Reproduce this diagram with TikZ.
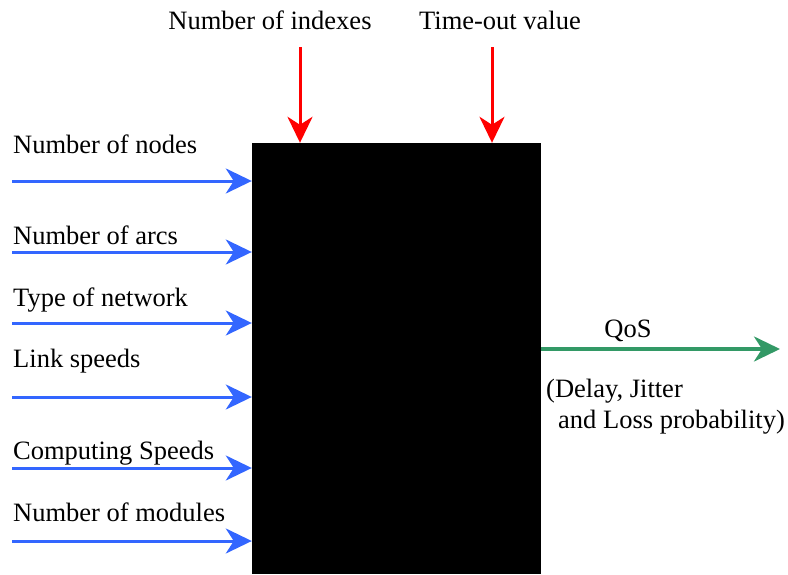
\documentclass[tikz,border=0pt]{standalone}
\usepackage{fontspec}
\setmainfont{Liberation Serif}
\usetikzlibrary{arrows.meta}
\definecolor{inblue}{RGB}{51,102,255}
\definecolor{ctlred}{RGB}{255,0,0}
\definecolor{outgreen}{RGB}{51,153,102}
\begin{document}
\begin{tikzpicture}[x=1pt,y=-1pt,
  lbl/.style={anchor=base west,inner sep=0pt,font=\fontsize{26.5}{30}\selectfont},
  clbl/.style={anchor=base,inner sep=0pt,font=\fontsize{26.5}{30}\selectfont},
  tip/.style={-{Stealth[length=26pt,width=25pt,inset=8pt]}},
  inarrow/.style={tip,draw=inblue,fill=inblue,line width=3pt},
  ctlarrow/.style={tip,draw=ctlred,fill=ctlred,line width=3pt},
  outarrow/.style={tip,draw=outgreen,fill=outgreen,line width=3.5pt},
  blackbox/.style={fill=black,draw=none,inner sep=0pt,minimum width=289pt,minimum height=431pt}]
\useasboundingbox (0,0) rectangle (788,574);
\node[blackbox] (box) at (396.5,358.5) {};
% inputs on the left
\coordinate (i1) at (12,181);
\coordinate (i2) at (12,252);
\coordinate (i3) at (12,323);
\coordinate (i4) at (12,397);
\coordinate (i5) at (12,468);
\coordinate (i6) at (12,541);
\foreach \c in {i1,i2,i3,i4,i5,i6}
  \draw[inarrow] (\c) -- (\c -| box.west);
\node[lbl] (l1) at (13,153) {Number of nodes};
\node[lbl] (l2) at (13,244) {Number of arcs};
\node[lbl] (l3) at (13,306) {Type of network};
\node[lbl] (l4) at (13,367) {Link speeds};
\node[lbl] (l5) at (13,459) {Computing Speeds};
\node[lbl] (l6) at (13,521) {Number of modules};
% controls on top
\coordinate (c1) at (300,47);
\coordinate (c2) at (492,47);
\draw[ctlarrow] (c1) -- (c1 |- box.north);
\draw[ctlarrow] (c2) -- (c2 |- box.north);
\node[clbl] (t1) at (270,29) {Number of indexes};
\node[clbl] (t2) at (500,29) {Time-out value};
% output
\coordinate (o1) at (780,349);
\draw[outarrow] (o1 -| box.east) -- (o1);
\node[clbl] (q) at (628,337) {QoS};
\node[lbl] (d1) at (546,397) {(Delay, Jitter};
\node[lbl] (d2) at (558,428) {and Loss probability)};
\end{tikzpicture}
\end{document}
